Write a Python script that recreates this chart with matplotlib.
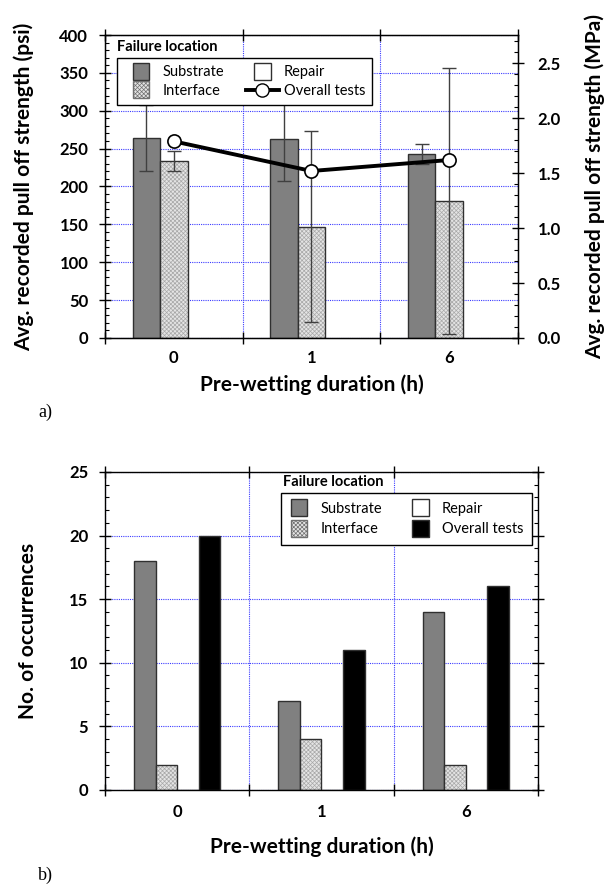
import numpy as np
import matplotlib
matplotlib.use("Agg")
from matplotlib import pyplot as plt
from matplotlib.patches import Rectangle
from matplotlib.lines import Line2D
from matplotlib.legend_handler import HandlerPatch
from matplotlib.ticker import MultipleLocator

plt.rcParams['font.family'] = ['Lato', 'DejaVu Sans']
plt.rcParams['hatch.linewidth'] = 0.5

# data
durations = ['0', '1', '6']
psi_substrate = [264, 263, 243]
psi_substrate_err = [44, 56, 13]
psi_interface = [234, 147, 181]
psi_interface_err = [13, 126, 176]
mpa_overall = [1.79, 1.52, 1.62]

cnt_substrate = [18, 7, 14]
cnt_interface = [2, 4, 2]
cnt_repair = [0, 0, 0]
cnt_overall = [20, 11, 16]

SUB_C = '#808080'
INT_C = '#e4e4e4'
HATCH_C = '#a8a8a8'
EDGE = '#303030'
GRID_C = '#3c3cff'


def square_patch(legend, orig_handle, xdescent, ydescent, width, height, fontsize):
	s = fontsize * 1.15
	p = Rectangle((-xdescent + (width - s) / 2, -ydescent + (height - s) / 2), s, s)
	return p


def style_axes(ax, ylab_pad):
	ax.set_xlim(-0.5, 2.5)
	ax.set_xticks([-0.5, 0.5, 1.5, 2.5])
	ax.set_xticklabels([])
	ax.set_xticks([0, 1, 2], minor=True)
	ax.set_xticklabels(durations, minor=True)
	ax.tick_params(axis='x', which='major', direction='inout', length=8, width=1, top=True)
	ax.tick_params(axis='x', which='minor', length=0, labelsize=12, pad=8.5)
	ax.tick_params(axis='y', which='major', direction='inout', length=8, width=1, labelsize=12, pad=8)
	ax.tick_params(axis='y', which='minor', direction='in', length=3, width=0.8)
	for lab in ax.get_xticklabels(minor=True) + ax.get_yticklabels():
		lab.set_fontweight('bold')
	ax.set_axisbelow(True)
	ax.grid(True, which='major', color=GRID_C, linestyle=(0, (1, 1)), linewidth=0.8)
	for sp in ax.spines.values():
		sp.set_linewidth(1.0)


def draw_interface(ax, x, h, w):
	ax.bar(x, h, w, color=INT_C, edgecolor=HATCH_C, hatch='xxxxxxxx', linewidth=0, zorder=2)
	ax.bar(x, h, w, fill=False, edgecolor=EDGE, linewidth=1, zorder=2.1)


fig = plt.figure(figsize=(6.14, 8.91), dpi=100)
x = np.arange(len(durations))

# ---- a) pull off strength
ax = fig.add_axes([0.171, 0.6207, 0.6726, 0.340])
w = 0.2
ax.bar(x - w, psi_substrate, w, color=SUB_C, edgecolor=EDGE, linewidth=1, zorder=2)
draw_interface(ax, x, psi_interface, w)
ax.errorbar(x - w, psi_substrate, yerr=psi_substrate_err, fmt='none', ecolor='#404040',
	elinewidth=1, capsize=5, capthick=1, zorder=3)
ax.errorbar(x, psi_interface, yerr=psi_interface_err, fmt='none', ecolor='#404040',
	elinewidth=1, capsize=5, capthick=1, zorder=3)
ax.set_ylim(0, 400)
ax.yaxis.set_major_locator(MultipleLocator(50))
ax.yaxis.set_minor_locator(MultipleLocator(10))
style_axes(ax, 8)
ax.tick_params(axis='y', which='both', right=False)
ax.set_ylabel('Avg. recorded pull off strength (psi)', fontsize=15, fontweight='bold')
ax.yaxis.set_label_coords(-0.172, 0.5)
ax.set_xlabel('Pre-wetting duration (h)', fontsize=15, fontweight='bold')
ax.xaxis.set_label_coords(0.5, -0.122)

ax2 = ax.twinx()
ax2.plot(x, mpa_overall, color='black', linewidth=2.8, marker='o', markersize=9.5,
	markerfacecolor='white', markeredgecolor='black', markeredgewidth=1.2, zorder=4)
ax2.set_ylim(0, 400 * 0.00689476)
ax2.yaxis.set_major_locator(MultipleLocator(0.5))
ax2.yaxis.set_minor_locator(MultipleLocator(0.1))
ax2.yaxis.set_major_formatter(matplotlib.ticker.FormatStrFormatter('%.1f'))
ax2.tick_params(axis='y', which='major', direction='inout', length=8, width=1, labelsize=12, pad=10)
ax2.tick_params(axis='y', which='minor', direction='in', length=3, width=0.8)
for lab in ax2.get_yticklabels():
	lab.set_fontweight('bold')
ax2.set_ylabel('Avg. recorded pull off strength (MPa)', fontsize=15, fontweight='bold')
ax2.yaxis.set_label_coords(1.16, 0.5)

h_sub = Rectangle((0, 0), 1, 1, facecolor=SUB_C, edgecolor=EDGE, linewidth=1)
h_int = Rectangle((0, 0), 1, 1, facecolor=INT_C, edgecolor='#707070', hatch='xxxxxxxx', linewidth=1)
h_rep = Rectangle((0, 0), 1, 1, facecolor='white', edgecolor=EDGE, linewidth=1)
h_line = Line2D([], [], color='black', linewidth=2.8, marker='o', markersize=9.5,
	markerfacecolor='white', markeredgecolor='black')
hm = {Rectangle: HandlerPatch(patch_func=square_patch)}
leg = ax2.legend([h_sub, h_int, h_rep, h_line], ['Substrate', 'Interface', 'Repair', 'Overall tests'],
	ncol=2, loc='upper left', bbox_to_anchor=(0.029, 0.924), borderaxespad=0,
	fontsize=10.5, frameon=True, fancybox=False, edgecolor='black', framealpha=1,
	handlelength=2.3, handletextpad=0.3, columnspacing=1.5, labelspacing=0.3,
	borderpad=0.5, handler_map=hm)
leg.get_frame().set_linewidth(1.0)
ax2.text(0.029, 0.962, 'Failure location', transform=ax2.transAxes, fontsize=10.5,
	fontweight='bold', va='center', ha='left')

fig.text(0.062, 1 - 412 / 891, 'a)', family='Liberation Serif', fontsize=13, va='center')

# ---- b) occurrences
bx = fig.add_axes([0.171, 0.1134, 0.7052, 0.3569])
w = 0.15
bx.bar(x - 1.5 * w, cnt_substrate, w, color=SUB_C, edgecolor=EDGE, linewidth=1, zorder=2)
draw_interface(bx, x - 0.5 * w, cnt_interface, w)
bx.bar(x + 0.5 * w, cnt_repair, w, color='white', edgecolor=EDGE, linewidth=1, zorder=2)
bx.bar(x + 1.5 * w, cnt_overall, w, color='black', edgecolor=EDGE, linewidth=1, zorder=2)
bx.set_ylim(0, 25)
bx.yaxis.set_major_locator(MultipleLocator(5))
bx.yaxis.set_minor_locator(MultipleLocator(1))
style_axes(bx, 8)
bx.tick_params(axis='y', which='both', right=True)
bx.tick_params(axis='x', which='minor', pad=10)
bx.set_ylabel('No. of occurrences', fontsize=15, fontweight='bold')
bx.yaxis.set_label_coords(-0.155, 0.5)
bx.set_xlabel('Pre-wetting duration (h)', fontsize=15, fontweight='bold')
bx.xaxis.set_label_coords(0.5, -0.145)

h_all = Rectangle((0, 0), 1, 1, facecolor='black', edgecolor=EDGE, linewidth=1)
leg2 = bx.legend([h_sub, h_int, h_rep, h_all], ['Substrate', 'Interface', 'Repair', 'Overall tests'],
	ncol=2, loc='upper left', bbox_to_anchor=(0.406, 0.934), borderaxespad=0,
	fontsize=10.5, frameon=True, fancybox=False, edgecolor='black', framealpha=1,
	handlelength=1.3, handletextpad=0.8, columnspacing=2.0, labelspacing=0.45,
	borderpad=0.6, handler_map=hm)
leg2.get_frame().set_linewidth(1.0)
bx.text(0.41, 0.967, 'Failure location', transform=bx.transAxes, fontsize=10.5,
	fontweight='bold', va='center', ha='left')

fig.text(0.062, 1 - 875 / 891, 'b)', family='Liberation Serif', fontsize=13, va='center')

fig.savefig('out.png', dpi=100)
